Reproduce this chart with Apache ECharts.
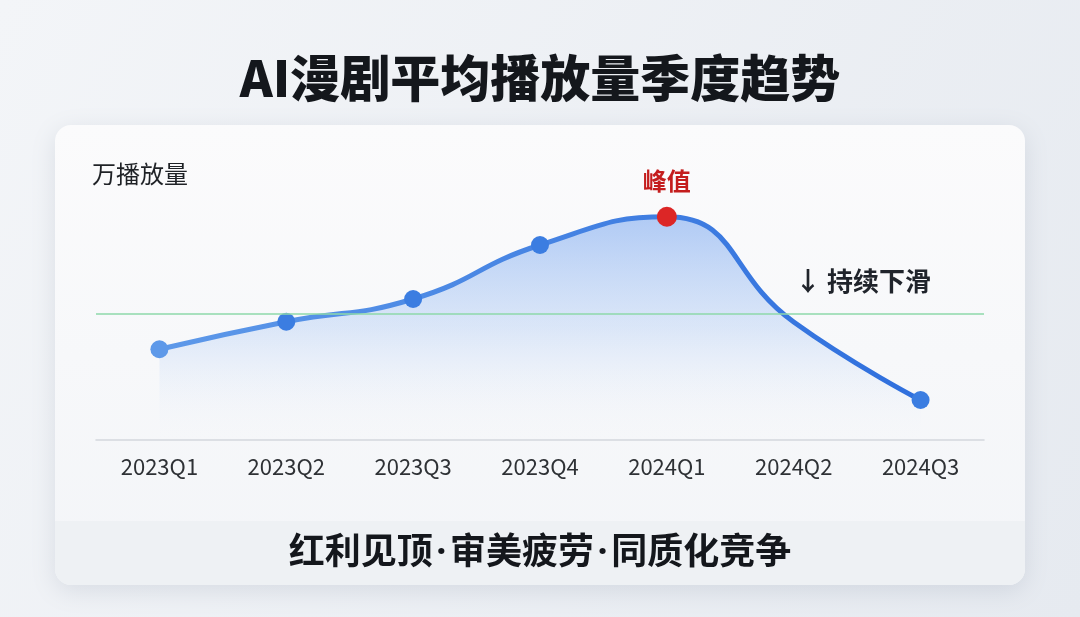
<!DOCTYPE html>
<html>
<head>
<meta charset="utf-8">
<script src="https://cdn.jsdelivr.net/npm/echarts@6/dist/echarts.min.js"></script>
<style>
  html, body { margin: 0; padding: 0; width: 1080px; height: 617px; overflow: hidden; }
  #chart { width: 1080px; height: 617px; }
</style>
</head>
<body>
<div id="chart"></div>
<script>
// Quarterly average views of AI short dramas (unit: 万播放量)
const quarters = ['2023Q1', '2023Q2', '2023Q3', '2023Q4', '2024Q1', '2024Q2', '2024Q3'];
const avgViews = [36.3, 47.3, 56.4, 78, 89.3, 47.2, 16];
const referenceLevel = 50.7;
const peakIndex = 4;
const hiddenMarkerIndex = 5;

const titleText = 'AI漫剧平均播放量季度趋势';
const yAxisName = '万播放量';
const peakLabel = '峰值';
const declineNote = '↓ 持续下滑';
// hair spaces around the middle dots
const footerText = '红利见顶\u200A·\u200A审美疲劳\u200A·\u200A同质化竞争';

const FONT = '"Noto Sans CJK SC", "Noto Sans", sans-serif';
// Latin font first so the middle dot and spaces stay narrow
const MIXED_FONT = '"Noto Sans", "Noto Sans CJK SC", sans-serif';

const seriesData = avgViews.map((v, i) => {
  if (i === peakIndex) {
    return {
      value: v,
      symbolSize: 20,
      itemStyle: { color: '#dc2626' },
      label: {
        show: true, position: 'top', distance: 14,
        formatter: peakLabel,
        color: '#c41d1d', fontSize: 24, fontWeight: 'bold', fontFamily: FONT
      }
    };
  }
  if (i === hiddenMarkerIndex) {
    return { value: v, symbol: 'none', symbolSize: 0 };
  }
  if (i === 0) {
    return { value: v, itemStyle: { color: '#5e99e9' } };
  }
  return v;
});

const chart = echarts.init(document.getElementById('chart'));
chart.setOption({
  backgroundColor: new echarts.graphic.LinearGradient(0, 0, 1, 1, [
    { offset: 0, color: '#f3f5f8' },
    { offset: 1, color: '#e6eaf0' }
  ]),
  graphic: [
    {
      type: 'rect', z: -10,
      shape: { x: 55, y: 125, width: 970, height: 460, r: 16 },
      style: {
        fill: new echarts.graphic.LinearGradient(0, 0, 0, 1, [
          { offset: 0, color: '#fbfbfc' },
          { offset: 1, color: '#f3f5f8' }
        ]),
        shadowBlur: 24, shadowColor: 'rgba(90,105,130,0.16)', shadowOffsetY: 6
      }
    },
    {
      type: 'rect', z: -9,
      shape: { x: 55, y: 521, width: 970, height: 64, r: [0, 0, 16, 16] },
      style: { fill: '#eef1f4' }
    },
    {
      type: 'text', z: 10,
      style: {
        text: titleText, x: 540, y: 78, align: 'center', verticalAlign: 'middle',
        fill: '#14171c', fontSize: 50, fontWeight: 900, fontFamily: FONT
      }
    },
    {
      type: 'text', z: 10,
      style: {
        text: declineNote, x: 795, y: 281, align: 'left', verticalAlign: 'middle',
        fill: '#20242b', fontSize: 26, fontWeight: 'bold', fontFamily: FONT
      }
    },
    {
      type: 'text', z: 10,
      style: {
        text: footerText, x: 540, y: 554, align: 'center', verticalAlign: 'middle',
        fill: '#14171c', fontSize: 36, fontWeight: 'bold', fontFamily: MIXED_FONT
      }
    }
  ],
  grid: { left: 96, right: 96, top: 190, bottom: 177 },
  xAxis: {
    type: 'category',
    data: quarters,
    boundaryGap: true,
    axisLine: { lineStyle: { color: '#d3d7dd', width: 1.5 } },
    axisTick: { show: false },
    axisLabel: { color: '#2e3135', fontSize: 22, margin: 16, fontFamily: FONT }
  },
  yAxis: {
    type: 'value', min: 0, max: 100,
    name: yAxisName,
    nameLocation: 'end',
    nameGap: 4,
    nameTextStyle: { align: 'left', color: '#1f2226', fontSize: 24, fontFamily: FONT, padding: [0, 0, 0, -4] },
    axisLine: { show: false }, axisTick: { show: false },
    axisLabel: { show: false }, splitLine: { show: false }
  },
  series: [{
    type: 'line',
    data: seriesData,
    smooth: 0.5,
    symbol: 'circle',
    symbolSize: 18,
    itemStyle: { color: '#3b7de1' },
    lineStyle: {
      width: 5,
      color: new echarts.graphic.LinearGradient(0, 0, 1, 0, [
        { offset: 0, color: '#5e99e9' },
        { offset: 1, color: '#2f6fdd' }
      ])
    },
    areaStyle: {
      color: new echarts.graphic.LinearGradient(0, 0, 0, 1, [
        { offset: 0, color: 'rgba(80,140,236,0.62)' },
        { offset: 0.5, color: 'rgba(120,168,240,0.32)' },
        { offset: 1, color: 'rgba(235,242,252,0)' }
      ])
    },
    markLine: {
      silent: true, symbol: 'none',
      label: { show: false },
      lineStyle: { color: '#8ed8aa', width: 1.5, type: 'solid' },
      data: [{ yAxis: referenceLevel }]
    },
    z: 3
  }]
});
</script>
</body>
</html>
